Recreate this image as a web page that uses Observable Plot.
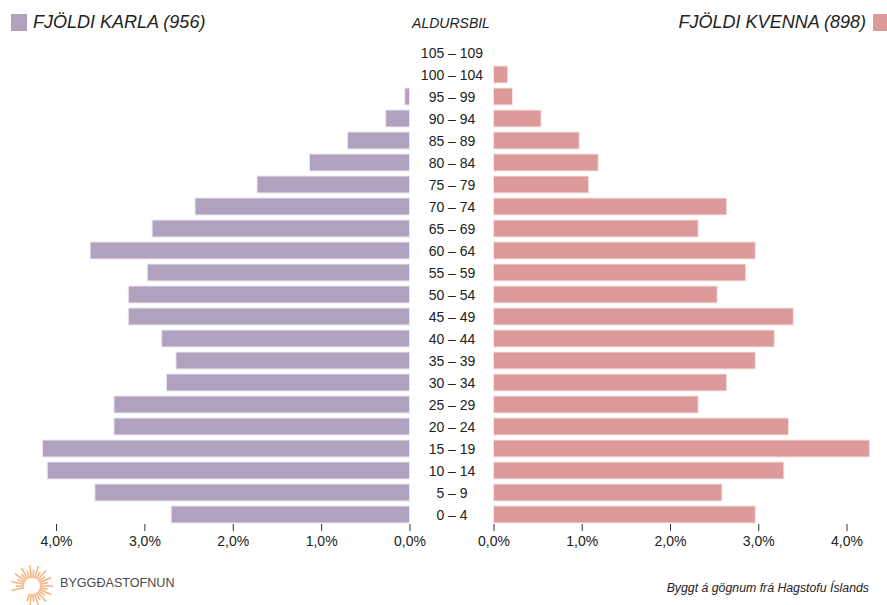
<!DOCTYPE html>
<html>
<head>
<meta charset="utf-8">
<script src="https://cdn.jsdelivr.net/npm/d3@7"></script>
<script src="https://cdn.jsdelivr.net/npm/@observablehq/plot@0.6"></script>
<style>
  html, body { margin: 0; padding: 0; background: #fff; }
  body { width: 887px; height: 605px; overflow: hidden; font-family: "Liberation Sans", Arial, sans-serif; }
  #wrap { position: relative; width: 887px; height: 605px; }
  .layer { position: absolute; left: 0; top: 0; }
  .legend { position: absolute; top: 12px; font-style: italic; font-size: 18px; color: #222; white-space: nowrap; }
  .sw { position: absolute; top: 14px; width: 16px; height: 17px; }
  #center { position: absolute; top: 15px; left: 0; width: 902px; text-align: center; font-style: italic; font-size: 14px; color: #222; }
  #caption { position: absolute; right: 18px; top: 581px; font-style: italic; font-size: 12.3px; color: #222; white-space: nowrap; }
  #logo { position: absolute; left: 8px; top: 565px; }
  #logotext { position: absolute; left: 60px; top: 576px; font-size: 12.6px; color: #4a4a4a; }
</style>
</head>
<body>
<div id="wrap">
  <div class="layer" id="left"></div>
  <div class="layer" id="right"></div>
  <div class="sw" style="left:11px;background:#b0a2bf"></div>
  <div class="legend" style="left:33px">FJÖLDI KARLA (956)</div>
  <div id="center">ALDURSBIL</div>
  <div class="legend" style="right:21px">FJÖLDI KVENNA (898)</div>
  <div class="sw" style="left:873px;width:16px;background:#dd9a9b"></div>
  <div id="logo"></div>
  <div id="logotext">BYGGĐASTOFNUN</div>
  <div id="caption">Byggt á gögnum frá Hagstofu Íslands</div>
</div>
<script>
// Age groups, youngest first
const ageGroups = ["0 – 4","5 – 9","10 – 14","15 – 19","20 – 24","25 – 29","30 – 34","35 – 39","40 – 44","45 – 49","50 – 54","55 – 59","60 – 64","65 – 69","70 – 74","75 – 79","80 – 84","85 – 89","90 – 94","95 – 99","100 – 104","105 – 109"];
// Number of persons per age group
const men   = [50, 66, 76, 77, 62, 62, 51, 49, 52, 59, 59, 55, 67, 54, 45, 32, 21, 13, 5, 1, 0, 0];
const women = [55, 48, 61, 79, 62, 43, 49, 55, 59, 63, 47, 53, 55, 43, 49, 20, 22, 18, 10, 4, 3, 0];
const totalPop = 956 + 898;
const xTicks = [0, 1, 2, 3, 4];
const fmt = d => d.toFixed(1).replace(".", ",") + "%";

const menData = ageGroups.map((a, i) => ({age: a, pct: men[i] / totalPop * 100}));
const womenData = ageGroups.map((a, i) => ({age: a, pct: women[i] / totalPop * 100}));
const yDomain = ageGroups.slice().reverse();

const common = (range) => ({
  width: 887, height: 605,
  marginBottom: 81,
  style: {background: "transparent", fontFamily: "Liberation Sans, Arial, sans-serif"},
  x: {domain: [0, 4], range, ticks: xTicks},
  y: {domain: yDomain, range: [41, 527], paddingInner: 0.22, paddingOuter: 0.11, axis: null}
});

const xAxis = () => Plot.axisX({ticks: xTicks, tickFormat: fmt, tickSize: 7, tickPadding: 5, fontSize: 14, stroke: "#333", color: "#222", label: null});

const left = Plot.plot({
  ...common([409.5, 56]),
  marks: [
    Plot.barX(menData, {x: "pct", y: "age", fill: "#b0a2bf", stroke: "#ece8f0", strokeWidth: 1}),
    xAxis()
  ]
});

const right = Plot.plot({
  ...common([493.5, 846.5]),
  marks: [
    Plot.barX(womenData, {x: "pct", y: "age", fill: "#dd9a9b", stroke: "#f6e4e4", strokeWidth: 1}),
    Plot.text(ageGroups, {x: 0, y: d => d, text: d => d, dx: -42, dy: 0.5, textAnchor: "middle", fontSize: 14, fill: "#222"}),
    xAxis()
  ]
});

document.getElementById("left").appendChild(left);
document.getElementById("right").appendChild(right);

// Logo sunburst
const logo = d3.select("#logo").append("svg").attr("width", 50).attr("height", 40);
const rays = d3.range(0, 360, 12).filter(a => !(a > 110 && a < 160));
logo.selectAll("line").data(rays).join("line")
  .attr("x1", a => 24 + 8 * Math.cos(a * Math.PI / 180))
  .attr("y1", a => 21 + 8 * Math.sin(a * Math.PI / 180))
  .attr("x2", a => 24 + (a % 24 === 0 ? 21 : 16) * Math.cos(a * Math.PI / 180))
  .attr("y2", a => 21 + (a % 24 === 0 ? 21 : 16) * Math.sin(a * Math.PI / 180))
  .attr("stroke", "#f4b27a").attr("stroke-width", 1.5);
</script>
</body>
</html>
